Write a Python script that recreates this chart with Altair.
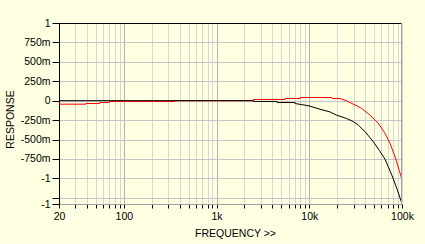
import altair as alt
import pandas as pd

# ---- data ----
red_freq = [20, 39, 39, 55, 55, 70, 70, 350, 350, 2500, 2500, 5500, 5500, 8000, 8000,
            17500, 17600, 21500, 25000, 28700, 32000, 36800, 45300, 55700, 65800,
            74500, 84400, 93300, 100000]
red_resp = [-0.045, -0.045, -0.036, -0.036, -0.023, -0.023, -0.01, -0.01, 0.0, 0.0,
            0.015, 0.015, 0.028, 0.028, 0.041, 0.041, 0.028, 0.028, 0.0, -0.036,
            -0.06, -0.101, -0.187, -0.294, -0.423, -0.552, -0.725, -0.897, -1.017]

black_freq = [20, 2500, 2500, 4500, 4500, 7000, 7000, 9930, 13040, 16750, 19770,
              25360, 29900, 33870, 40000, 49200, 57000, 65800, 77800, 88100, 100000]
black_resp = [0.0, 0.0, -0.01, -0.01, -0.023, -0.023, -0.036, -0.067, -0.11, -0.145,
              -0.187, -0.23, -0.27, -0.316, -0.40, -0.53, -0.64, -0.757, -0.961,
              -1.133, -1.326]

x_ticks = [20, 30, 40, 50, 60, 70, 80, 90,
           100, 200, 300, 400, 500, 600, 700, 800, 900,
           1000, 2000, 3000, 4000, 5000, 6000, 7000, 8000, 9000,
           10000, 20000, 30000, 40000, 50000, 60000, 70000, 80000, 90000, 100000]
x_major = [100, 1000, 10000]
x_label_vals = [20, 100, 1000, 10000, 100000]
x_label_txt = ["20", "100", "1k", "10k", "100k"]

y_ticks = [1, 0.75, 0.5, 0.25, 0, -0.25, -0.5, -0.75, -1, -1.25, -1.33]
y_label_txt = ["1", "750m", "500m", "250m", "0", "-250m", "-500m", "-750m", "-1", "", "-1"]

series = ["red", "black"]
colors = ["#FF0000", "#000000"]

rows = []
for i, (f, v) in enumerate(zip(red_freq, red_resp)):
    rows.append({"s": "red", "f": f, "v": v, "i": i})
for i, (f, v) in enumerate(zip(black_freq, black_resp)):
    rows.append({"s": "black", "f": f, "v": v, "i": i})
df = pd.DataFrame(rows)


def label_expr(vals, txts):
    expr = "''"
    for v, t in reversed(list(zip(vals, txts))):
        expr = f"abs(datum.value - ({v})) < 1e-6 ? '{t}' : ({expr})"
    return expr


major_test = " || ".join(f"datum.value == {m}" for m in x_major)

FONT = "Liberation Sans"
W, H = 343, 181
BG = "#FFFFE1"

x_enc = alt.X(
    "f:Q",
    scale=alt.Scale(type="log", domain=[20, 100000], nice=False),
    axis=alt.Axis(
        values=x_ticks,
        labelExpr=label_expr(x_label_vals, x_label_txt),
        title="FREQUENCY >>",
        titleX=176, titleY=32, titleBaseline="alphabetic", titleAlign="center",
        titleFont=FONT, titleFontSize=10.5, titleFontWeight="normal", titleColor="#000",
        labelFont=FONT, labelFontSize=10.5, labelColor="#000", labelPadding=3,
        labelFlush=False, labelOverlap=False,
        tickColor="#000", tickSize=4,
        domainColor="#A0A0A0",
        grid=True,
        gridColor={"condition": {"test": major_test, "value": "#B4B4B4"}, "value": "#D6D6D6"},
    ),
)
y_enc = alt.Y(
    "v:Q",
    scale=alt.Scale(domain=[-1.33, 1], nice=False, zero=False),
    axis=alt.Axis(
        values=y_ticks,
        labelExpr=label_expr(y_ticks, y_label_txt),
        title="RESPONSE",
        titleX=-49, titleY=96, titleAngle=-90, titleBaseline="middle", titleAlign="center",
        titleFont=FONT, titleFontSize=10.5, titleFontWeight="normal", titleColor="#000",
        labelFont=FONT, labelFontSize=10.5, labelColor="#000", labelPadding=2,
        labelFlush=False, labelOverlap=False,
        tickColor="#000", tickSize=7,
        domainColor="#000",
        grid=True, gridColor="#C4C4C4",
    ),
)

lines = alt.Chart(df).mark_line(strokeWidth=1, clip=True).encode(
    x=x_enc,
    y=y_enc,
    color=alt.Color("s:N", scale=alt.Scale(domain=series, range=colors), legend=None),
    order=alt.Order("i:Q"),
)

top_edge = alt.Chart(df).mark_rule(color="#000", strokeWidth=1).encode(
    x=alt.value(0), x2=alt.value(W), y=alt.value(0.5)
)
right_edge = alt.Chart(df).mark_rule(color="#A0A0A0", strokeWidth=1).encode(
    x=alt.value(W - 0.5), y=alt.value(0), y2=alt.value(H)
)

chart = alt.layer(lines, top_edge, right_edge).properties(
    width=W, height=H,
    autosize=alt.AutoSizeParams(type="none"),
    padding={"left": 59, "top": 23, "right": 23, "bottom": 40},
    background=BG,
).configure_view(fill=BG, stroke=None)

chart.save("out.html", embed_options={"renderer": "svg", "actions": False})
